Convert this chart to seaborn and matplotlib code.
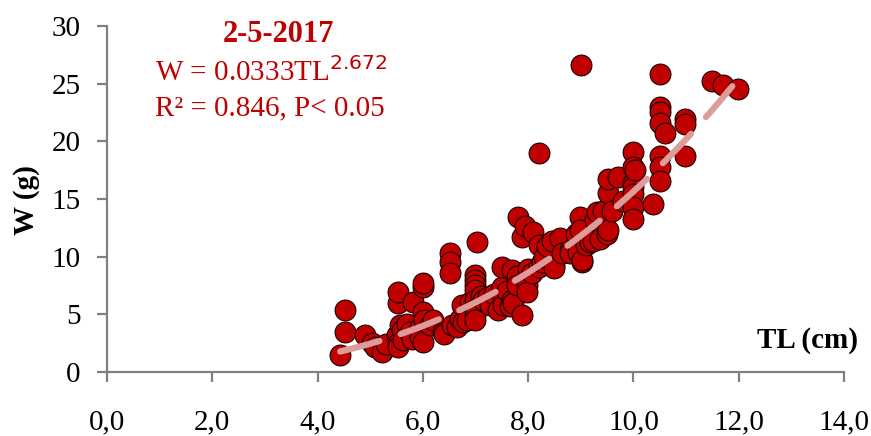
import numpy as np
import pandas as pd
import matplotlib
matplotlib.use("Agg")
import matplotlib.pyplot as plt
import seaborn as sns
from matplotlib.ticker import FuncFormatter

# Length-weight measurements, sample of 2-5-2017
tl_cm = [4.43, 4.52, 4.52, 4.90, 5.03, 5.10, 5.22, 5.30, 5.50, 5.53, 5.53, 5.53, 5.53,
         5.57, 5.60, 5.62, 5.70, 5.76, 5.80, 5.81, 5.95, 5.95, 6.00, 6.00, 6.00, 6.00,
         6.02, 6.14, 6.20, 6.38, 6.40, 6.52, 6.52, 6.52, 6.55, 6.65, 6.70, 6.74, 6.76,
         6.84, 6.90, 7.00, 7.00, 7.00, 7.00, 7.00, 7.00, 7.00, 7.00, 7.03, 7.10, 7.15,
         7.24, 7.28, 7.35, 7.43, 7.50, 7.50, 7.52, 7.52, 7.60, 7.66, 7.70, 7.70, 7.72,
         7.78, 7.79, 7.80, 7.88, 7.88, 7.94, 7.97, 7.98, 8.00, 8.07, 8.10, 8.20, 8.20,
         8.20, 8.26, 8.30, 8.35, 8.45, 8.50, 8.50, 8.60, 8.65, 8.80, 8.80, 8.90, 8.95,
         8.98, 8.98, 9.00, 9.02, 9.02, 9.10, 9.17, 9.23, 9.27, 9.30, 9.37, 9.42, 9.50,
         9.52, 9.52, 9.52, 9.60, 9.70, 9.80, 10.00, 10.00, 10.00, 10.00, 10.00, 10.00,
         10.00, 10.03, 10.37, 10.50, 10.50, 10.50, 10.50, 10.50, 10.50, 10.50, 10.60,
         10.98, 10.98, 10.98, 11.49, 11.70, 11.99]
w_g = [1.5, 3.5, 5.4, 3.2, 2.5, 2.2, 1.7, 2.4, 3.2, 2.5, 2.2, 6.0, 6.9,
       4.1, 3.6, 2.8, 4.2, 3.5, 2.9, 6.1, 3.8, 3.0, 2.6, 5.2, 7.4, 7.7,
       4.5, 4.1, 4.5, 3.5, 3.3, 10.3, 9.5, 8.6, 4.1, 3.9, 4.6, 5.8, 4.3,
       4.5, 6.1, 8.4, 8.0, 7.5, 7.1, 6.2, 5.5, 4.9, 4.5, 11.3, 6.6, 6.2,
       6.5, 5.8, 6.8, 5.4, 7.4, 9.1, 6.4, 5.8, 7.0, 5.7, 8.8, 6.2, 6.0,
       8.3, 7.5, 13.4, 11.7, 4.9, 12.7, 7.5, 6.9, 8.9, 8.6, 12.1, 19.0, 11.0,
       9.1, 9.5, 10.0, 10.9, 11.4, 9.3, 9.0, 11.6, 10.3, 10.6, 10.3, 12.0, 10.4,
       13.4, 12.3, 26.6, 9.5, 9.7, 11.0, 11.3, 11.4, 13.2, 13.9, 11.5, 14.0, 12.0,
       12.3, 15.5, 16.7, 14.0, 16.9, 14.8, 19.1, 17.8, 16.4, 16.0, 15.4, 14.3,
       13.3, 17.5, 14.6, 25.8, 23.0, 22.5, 21.6, 18.7, 17.8, 16.6, 20.7,
       21.9, 21.5, 18.7, 25.2, 24.9, 24.5]

# Power-law fit W = a * TL^b
fit_a = 0.0333
fit_b = 2.672
fit_r2 = 0.846
sample_date = "2-5-2017"

x_ticks = [0, 2, 4, 6, 8, 10, 12, 14]
y_ticks = [0, 5, 10, 15, 20, 25, 30]

df = pd.DataFrame({"TL": tl_cm, "W": w_g})
fit_x = np.linspace(min(tl_cm), max(tl_cm), 200)
fit_df = pd.DataFrame({"TL": fit_x, "W": fit_a * fit_x ** fit_b})

sns.set_theme(style="white")
plt.rcParams["font.family"] = ["Liberation Serif", "DejaVu Serif"]

red = "#C00000"
grey = "#808080"

fig = plt.figure(figsize=(8.71, 4.36), dpi=100)
ax = fig.add_axes([0.1228, 0.1468, 0.969 - 0.1228, 0.9404 - 0.1468])

sns.scatterplot(data=df, x="TL", y="W", ax=ax, s=225, color=red,
                edgecolor="#1a0000", linewidth=0.8, zorder=3, legend=False)
sns.lineplot(data=fit_df, x="TL", y="W", ax=ax, color="#DC9C9C", linewidth=4.5,
             dashes=[(6.5, 3.6)], style=np.zeros(len(fit_df)), legend=False,
             zorder=4)
for ln in ax.lines:
    ln.set_dash_capstyle("round")

ax.set_xlim(0, 14)
ax.set_ylim(0, 30)
ax.set_xticks(x_ticks)
ax.set_yticks(y_ticks)
ax.xaxis.set_major_formatter(FuncFormatter(lambda v, p: f"{v:.1f}".replace(".", ",")))
ax.set_xlabel("")
ax.set_ylabel("")

for side in ("top", "right"):
    ax.spines[side].set_visible(False)
for side in ("left", "bottom"):
    ax.spines[side].set_color(grey)
    ax.spines[side].set_linewidth(1.6)

ax.tick_params(axis="both", which="major", direction="out", color=grey,
               width=1.6, length=7, labelsize=21, labelcolor="black",
               bottom=True, left=True)
ax.tick_params(axis="x", pad=20)
ax.tick_params(axis="y", pad=12)

fig.text(27 / 871, 1 - 200 / 436, "W (g)", rotation=90, ha="center", va="center",
         fontsize=21, fontweight="bold", color="black")
fig.text(858 / 871, 1 - 340 / 436, "TL (cm)", ha="right", va="center",
         fontsize=21, fontweight="bold", color="black")

fig.text(278 / 871, 1 - 35 / 436, sample_date, ha="center", va="center",
         fontsize=22, fontweight="bold", color=red)
fig.text(155 / 871, 1 - 72 / 436,
         r"W = %.4fTL$^{\mathsf{%.3f}}$" % (fit_a, fit_b),
         ha="left", va="center", fontsize=21, color=red)
fig.text(155 / 871, 1 - 108 / 436, "R² = %.3f, P< 0.05" % fit_r2,
         ha="left", va="center", fontsize=21, color=red)

fig.savefig("out.png", dpi=100)
